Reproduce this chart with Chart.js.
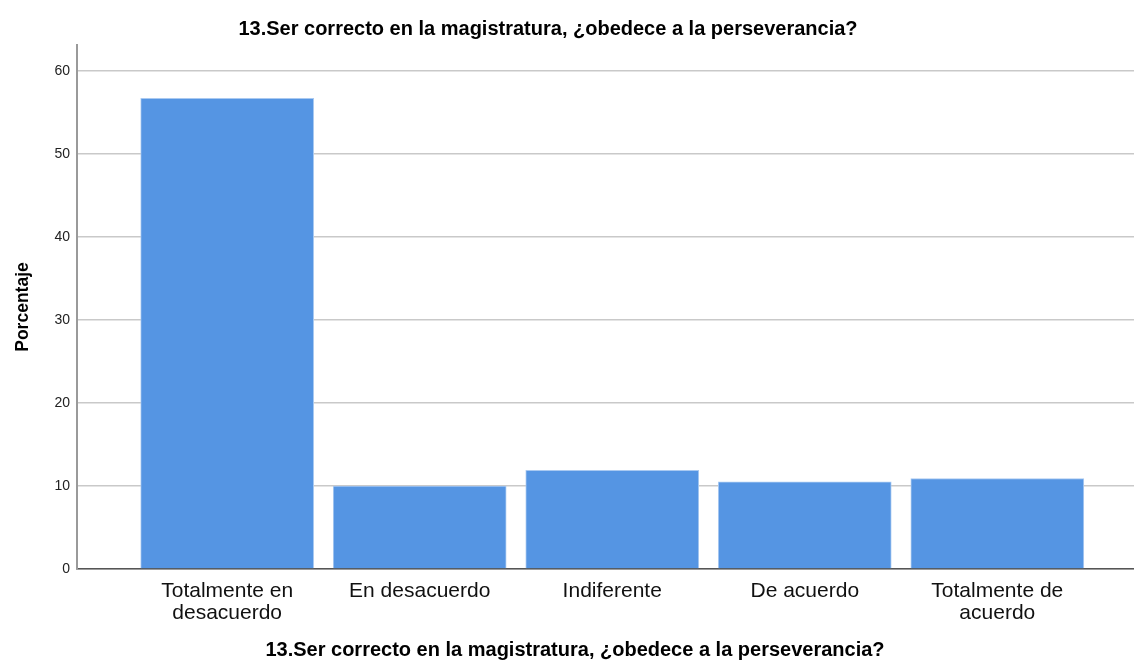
<!DOCTYPE html>
<html>
<head>
<meta charset="utf-8">
<script src="https://cdn.jsdelivr.net/npm/chart.js@4"></script>
<style>
  html, body { margin: 0; padding: 0; background: #fff; }
  canvas { display: block; }
</style>
</head>
<body>
<canvas id="chart" width="1134" height="668"></canvas>
<script>
const TITLE = '13.Ser correcto en la magistratura, ¿obedece a la perseverancia?';
const CATEGORIES = ['Totalmente en desacuerdo', 'En desacuerdo', 'Indiferente', 'De acuerdo', 'Totalmente de acuerdo'];
const TICK_LABELS = [['Totalmente en', 'desacuerdo'], 'En desacuerdo', 'Indiferente', 'De acuerdo', ['Totalmente de', 'acuerdo']];
const PERCENTS = [56.7, 10.0, 11.9, 10.5, 10.9];
const Y_TICKS = [0, 10, 20, 30, 40, 50, 60];

const FONT = 'Liberation Sans, Arial, sans-serif';

// the two titles are not centred on the canvas in the original, nudge their boxes
const shiftTitles = {
  id: 'shiftTitles',
  afterLayout(chart) {
    chart.boxes.forEach((box) => {
      if (!box.options || box.options.text !== TITLE) return;
      const center = box.position === 'top' ? 548 : 575;
      box.left = center - 500;
      box.right = center + 500;
    });
  },
};

new Chart(document.getElementById('chart'), {
  type: 'bar',
  data: {
    datasets: [
      {
        data: PERCENTS.map((v, i) => ({ x: i, y: v })),
        backgroundColor: '#5595e3',
        borderColor: '#a9c9f1',
        borderWidth: 1,
        barThickness: 173,
      },
    ],
  },
  plugins: [shiftTitles],
  options: {
    responsive: false,
    animation: false,
    layout: { padding: 0 },
    plugins: {
      legend: { display: false },
      tooltip: { enabled: false },
      title: {
        display: true,
        text: TITLE,
        color: '#000',
        font: { family: FONT, size: 20, weight: 'bold' },
        padding: { top: 17, bottom: 4 },
      },
      subtitle: {
        display: true,
        position: 'bottom',
        text: TITLE,
        color: '#000',
        font: { family: FONT, size: 20, weight: 'bold' },
        padding: { top: 0, bottom: 6 },
      },
    },
    scales: {
      x: {
        type: 'linear',
        offset: false,
        min: -0.78,
        max: 4.71,
        grid: { display: false, drawTicks: false },
        border: { display: true, color: '#555', width: 1.5 },
        afterBuildTicks: (scale) => {
          scale.ticks = CATEGORIES.map((c, i) => ({ value: i }));
        },
        afterFit: (scale) => { scale.height = 69; },
        ticks: {
          autoSkip: false,
          maxRotation: 0,
          padding: 11,
          color: '#111',
          font: { family: FONT, size: 21, lineHeight: 1.05 },
          callback: (v) => TICK_LABELS[v],
        },
      },
      y: {
        min: 0,
        max: 63.13,
        grid: { color: '#c9c9c9', lineWidth: 1.5, drawTicks: false },
        border: { display: true, color: '#9a9a9a', width: 2 },
        afterBuildTicks: (scale) => {
          scale.ticks = Y_TICKS.map((v) => ({ value: v }));
        },
        afterFit: (scale) => { scale.width = 77; },
        ticks: {
          padding: 7,
          color: '#222',
          font: { family: FONT, size: 14 },
        },
        title: {
          display: true,
          text: 'Porcentaje',
          color: '#000',
          font: { family: FONT, size: 17.5, weight: 'bold' },
          padding: { top: 13, bottom: 0 },
        },
      },
    },
  },
});
</script>
</body>
</html>
